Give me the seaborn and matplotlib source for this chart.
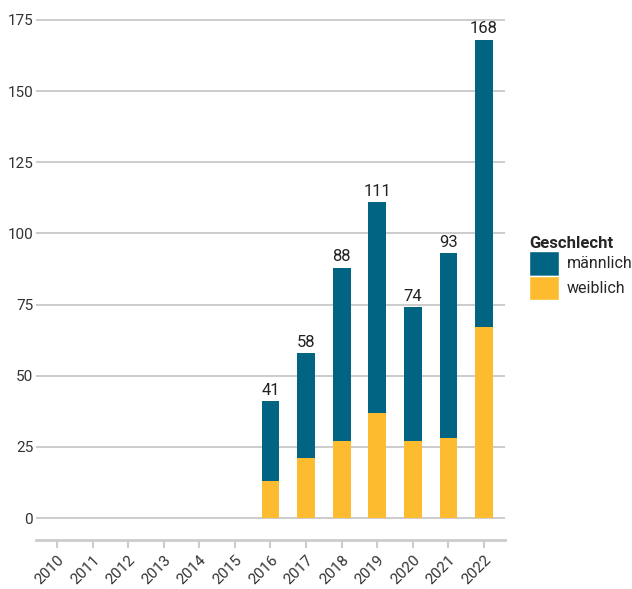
import matplotlib
matplotlib.use("Agg")
import matplotlib.pyplot as plt
import seaborn as sns
import pandas as pd
from matplotlib.patches import Patch

# data
years = [str(y) for y in range(2010, 2023)]
total = [0, 0, 0, 0, 0, 0, 41, 58, 88, 111, 74, 93, 168]
weiblich = [0, 0, 0, 0, 0, 0, 13, 21, 27, 37, 27, 28, 67]
y_ticks = [0, 25, 50, 75, 100, 125, 150, 175]

col_m = "#006482"
col_w = "#fdbc2f"

sns.set_theme(style="white")
plt.rcParams["font.family"] = ["Roboto", "DejaVu Sans"]

df = pd.DataFrame({"Jahr": years, "total": total, "weiblich": weiblich})

fig = plt.figure(figsize=(6.32, 5.89), dpi=100)
ax = fig.add_axes([36 / 632, 1 - 540 / 589, 469 / 632, 530 / 589])

# grid lines behind bars
for t in y_ticks:
    ax.axhline(t, color="#cccccc", lw=1.4, zorder=0)

# male part drawn as total height, female bars over it
sns.barplot(data=df, x="Jahr", y="total", color=col_m, width=0.5,
            saturation=1, linewidth=0, ax=ax, zorder=2)
sns.barplot(data=df, x="Jahr", y="weiblich", color=col_w, width=0.5,
            saturation=1, linewidth=0, ax=ax, zorder=3)

for i, v in enumerate(total):
    if v > 0:
        ax.text(i, v + 1.2, str(v), ha="center", va="bottom",
                fontsize=12, color="#222222")

ax.set_xlim(-0.59, 12.59)
ax.set_ylim(-7.7, 178.5)
ax.set_yticks(y_ticks)
ax.set_yticklabels([str(t) for t in y_ticks], fontsize=11, color="#333333")
ax.tick_params(axis="y", length=0, pad=2)
ax.tick_params(axis="x", length=6, width=1.5, color="#cccccc",
               bottom=True, pad=3)
plt.setp(ax.get_xticklabels(), rotation=45, ha="right",
         rotation_mode="anchor", fontsize=11, color="#333333")
ax.set_xlabel("")
ax.set_ylabel("")

for s in ["top", "right", "left"]:
    ax.spines[s].set_visible(False)
ax.spines["bottom"].set_color("#cccccc")
ax.spines["bottom"].set_linewidth(2)

handles = [Patch(facecolor=col_m, label="männlich"),
           Patch(facecolor=col_w, label="weiblich")]
leg = fig.legend(handles=handles, title="Geschlecht", loc="upper left",
                 bbox_to_anchor=(529 / 632, 1 - 236 / 589), frameon=False,
                 fontsize=11.5, title_fontsize=12, handlelength=1.9,
                 handleheight=2.0, handletextpad=0.45, labelspacing=0.0,
                 borderpad=0, borderaxespad=0, alignment="left")
leg.get_title().set_fontweight("bold")

fig.savefig("out.png", dpi=100)
